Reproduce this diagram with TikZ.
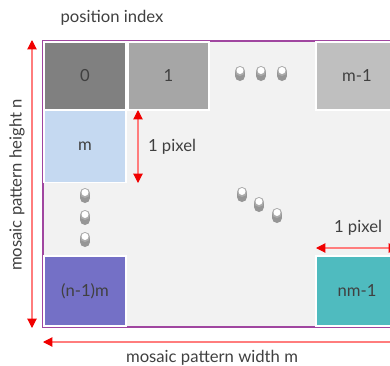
\documentclass[tikz,border=0pt]{standalone}
\usepackage{fontspec}
\setmainfont{Lato}
\usetikzlibrary{arrows.meta, positioning}

\definecolor{framepurple}{RGB}{160,70,160}
\definecolor{panelgrey}{RGB}{242,242,242}
\definecolor{textgrey}{RGB}{64,64,64}
\definecolor{dimline}{RGB}{255,125,125}
\definecolor{dimhead}{RGB}{240,0,0}
\definecolor{knobgrey}{RGB}{150,150,150}

\begin{document}
\begin{tikzpicture}[x=0.75pt, y=-0.75pt, font=\fontsize{12.5}{14}\selectfont, text=textgrey]

  \tikzstyle{cell} = [rectangle, draw=white, line width=0.8pt, minimum width=61.5pt, minimum height=51pt, inner sep=0pt, text centered]
  \tikzstyle{dim} = [draw=dimline, line width=0.8pt, {Triangle[length=7pt, width=7pt, color=dimhead]}-{Triangle[length=7pt, width=7pt, color=dimhead]}]
  \tikzstyle{label} = [inner sep=1pt]

  \useasboundingbox (0,0) rectangle (390,365);
  \clip (0,0) rectangle (390,365);

  % the mosaic frame
  \node (mosaic) [rectangle, draw=framepurple, fill=panelgrey, line width=1.8pt, minimum width=267.75pt, minimum height=214.5pt] at (221.5,184) {};

  % pixels
  \node (p0)   [cell, fill=black!50] at (85,76) {0};
  \node (p1)   [cell, fill=black!35, minimum width=60.75pt] at (168.5,76) {1};
  \node (pm1)  [cell, fill=black!25] at (357,76) {m-1};
  \node (pm)   [cell, fill={rgb,255:red,197;green,217;blue,241}, minimum height=54pt] at (85,146.5) {m};
  \node (pn1m) [cell, fill={rgb,255:red,116;green,112;blue,198}, minimum height=52.5pt] at (85,291) {(n-1)m};
  \node (pnm1) [cell, fill={rgb,255:red,79;green,187;blue,191}, minimum height=52.5pt] at (357,291) {nm-1};

  % dots
  \foreach \x/\y in {240/71, 261/71, 282/71, 85/193, 85/215, 85/237, 242/192, 259/202, 277/213} {
    \fill[knobgrey] (\x-5,\y) rectangle (\x+5,\y+5);
    \fill[knobgrey] (\x,\y+5) circle (5);
    \fill[knobgrey!80] (\x,\y) circle (5);
    \fill[white] (\x,\y-0.5) circle (3.5);
  }

  % dimensions
  \node (title) [label] at (112,18) {position index};

  \coordinate (htop) at (32,40);
  \coordinate (hbot) at (32,328);
  \draw [dim] (htop) -- (hbot);
  \node (height) [label, rotate=90] at (17,185) {mosaic pattern height n};

  \coordinate (wleft) at (43,342);
  \coordinate (wright) at (402,342);
  \draw [dim] (wleft) -- (wright);
  \node (width) [label] at (212,358) {mosaic pattern width m};

  \coordinate (vtop) at (138,110);
  \coordinate (vbot) at (138,183);
  \draw [dim] (vtop) -- (vbot);
  \node (vpixel) [label] at (172,147) {1 pixel};

  \coordinate (hleft) at (316,248);
  \coordinate (hright) at (398,248);
  \draw [dim] (hleft) -- (hright);
  \node (hpixel) [label] at (358,228) {1 pixel};

\end{tikzpicture}
\end{document}
